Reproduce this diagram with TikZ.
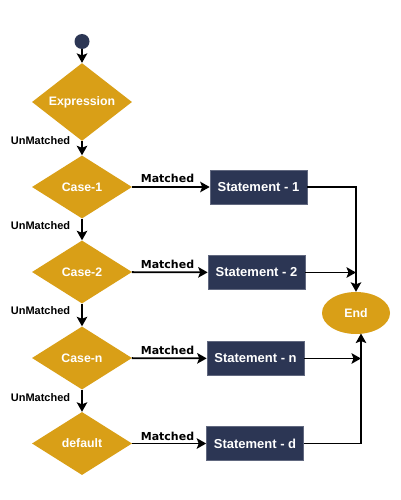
\documentclass[tikz,border=0pt]{standalone}
\usepackage{fontspec}
\setmainfont{Liberation Sans}
\newfontfamily\labfont{DejaVu Sans}
\usetikzlibrary{shapes.geometric,arrows.meta}
\definecolor{gold}{HTML}{D99F17}
\definecolor{navy}{HTML}{2C3654}
\begin{document}
\begin{tikzpicture}[x=1pt,y=-1pt,
  dec/.style={diamond, fill=gold, minimum width=100pt, minimum height=63pt, inner sep=0pt, text=white, font=\fontsize{12.3}{14}\selectfont\bfseries},
  stmt/.style={rectangle, fill=navy, draw=navy!75!white, line width=0.6pt, minimum width=97pt, minimum height=34pt, inner sep=0pt, text=white, font=\fontsize{13}{15}\selectfont\bfseries},
  conn/.style={line width=1.8pt, -{Stealth[length=9.5pt,width=10.5pt,inset=2pt]}},
  matchlbl/.style={font=\labfont\fontsize{11}{13}\selectfont\bfseries, inner sep=0pt},
  unlbl/.style={font=\fontsize{11}{13}\selectfont\bfseries, inner sep=0pt}]
\useasboundingbox[fill=white] (0,0) rectangle (400,500);
\node[circle, fill=navy, minimum size=15pt, inner sep=0pt] (start) at (82,41.5) {};
\node[dec] (expr) at (82,102) {Expression};
\node[dec] (c1) at (82,187) {Case-1};
\node[dec] (c2) at (82,272) {Case-2};
\node[dec] (cn) at (82,358) {Case-n};
\node[dec] (def) at (82,443.5) {default};
\node[stmt] (s1) at (258.5,187) {Statement - 1};
\node[stmt] (s2) at (256.5,272.5) {Statement - 2};
\node[stmt] (sn) at (255.5,358.5) {Statement - n};
\node[stmt] (sd) at (255,443.5) {Statement - d};
\node[ellipse, fill=gold, minimum width=68pt, minimum height=42pt, inner sep=0pt, text=white, font=\fontsize{12.3}{14}\selectfont\bfseries] (end) at (356,313) {End};
\coordinate (ein) at (361,333.5);
% vertical flow
\draw[conn] (start) -- (expr);
\draw[conn] (expr) -- (c1);
\draw[conn] (c1) -- (c2);
\draw[conn] (c2) -- (cn);
\draw[conn] (cn) -- (def);
% matched
\draw[conn] (c1) -- (s1);
\draw[conn] (c2) -- (s2);
\draw[conn] (cn) -- (sn);
\draw[conn] (def) -- (sd);
% to end
\draw[conn] (s1) -| (end);
\draw[conn] (s2) -- (s2 -| end);
\draw[conn] (sn) -- (sn -| ein);
\draw[conn] (sd) -| (ein);
% labels
\node[unlbl] (u1) at (40.5,141) {UnMatched};
\node[unlbl] (u2) at (40.5,226) {UnMatched};
\node[unlbl] (u3) at (40.5,311) {UnMatched};
\node[unlbl] (u4) at (40.5,398) {UnMatched};
\node[matchlbl] (m1) at (167.5,178.5) {Matched};
\node[matchlbl] (m2) at (167.5,264) {Matched};
\node[matchlbl] (m3) at (167.5,350) {Matched};
\node[matchlbl] (m4) at (167.5,436.5) {Matched};
\end{tikzpicture}
\end{document}
